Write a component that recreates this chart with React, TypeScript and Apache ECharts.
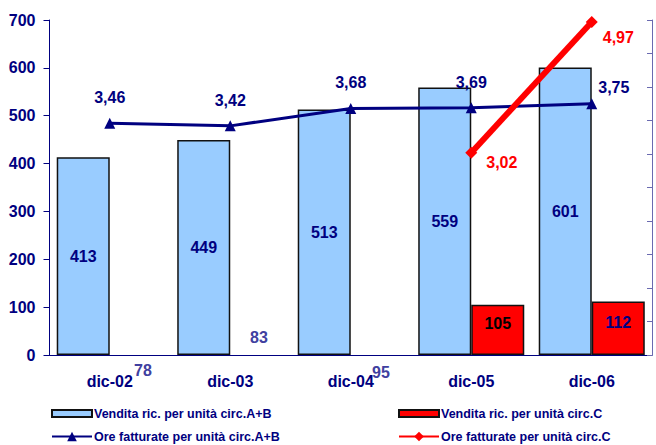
import React, { useEffect, useRef } from "react";
import * as echarts from "echarts";

const categories = ["dic-02", "dic-03", "dic-04", "dic-05", "dic-06"];
const venditaAB = [413, 449, 513, 559, 601];
const venditaC = [null, null, null, 105, 112];
const oreAB = [3.46, 3.42, 3.68, 3.69, 3.75];
const oreC = [null, null, null, 3.02, 4.97];
const strayLabels = ["78", "83", "95"];

const NAVY = "#000080";
const FONT = "'Liberation Sans', Arial, sans-serif";
const fmt = (v: number) => String(v).replace(".", ",");

export default function App() {
  const ref = useRef<HTMLDivElement>(null);
  useEffect(() => {
    const chart = echarts.init(ref.current!, null, { renderer: "svg" });
    const legendText = { color: NAVY, fontWeight: "bold" as const, fontSize: 12.5, fontFamily: FONT, padding: [0, 0, 0, -3] };
    const lg = (left: number, top: number, name: string, h: number, icon?: string) => ({
      left,
      top,
      padding: 0,
      itemWidth: 40,
      itemHeight: h,
      itemGap: 0,
      ...(icon ? { icon } : {}),
      data: [name],
      textStyle: legendText,
    });
    chart.setOption({
      animation: false,
      backgroundColor: "#fff",
      grid: { left: 49.5, right: 4, top: 20, bottom: 90 },
      xAxis: {
        type: "category",
        data: categories,
        axisLine: { lineStyle: { color: NAVY, width: 1 } },
        axisTick: { lineStyle: { color: NAVY }, length: 5 },
        axisLabel: { color: NAVY, fontWeight: "bold", fontSize: 16, fontFamily: FONT, margin: 18 },
      },
      yAxis: [
        {
          type: "value",
          min: 0,
          max: 700,
          interval: 100,
          splitLine: { show: false },
          axisLine: { show: true, lineStyle: { color: NAVY } },
          axisTick: { show: true, length: 6, lineStyle: { color: NAVY } },
          axisLabel: { color: NAVY, fontWeight: "bold", fontSize: 16, fontFamily: FONT, margin: 14 },
        },
        {
          type: "value",
          min: 0,
          max: 5,
          interval: 0.5,
          position: "right",
          splitLine: { show: false },
          axisLine: { show: true, lineStyle: { color: "#6a6ab0" } },
          axisTick: { show: true, inside: true, length: 5, lineStyle: { color: "#6a6ab0" } },
          axisLabel: { show: false },
        },
      ],
      legend: [
        lg(51, 407, "Vendita ric. per unità circ.A+B", 7, "rect"),
        lg(398, 407, "Vendita ric. per unità circ.C", 7, "rect"),
        lg(51, 430, "Ore fatturate per unità circ.A+B", 12),
        lg(398, 430, "Ore fatturate per unità circ.C", 12),
      ],
      series: [
        {
          name: "Vendita ric. per unità circ.A+B",
          type: "bar",
          data: venditaAB,
          barGap: "0%",
          barCategoryGap: "12%",
          itemStyle: { color: "#99CCFF", borderColor: "#111", borderWidth: 1.5 },
          label: { show: true, position: "inside", color: NAVY, fontWeight: "bold", fontSize: 16, fontFamily: FONT },
        },
        {
          name: "Vendita ric. per unità circ.C",
          type: "bar",
          data: venditaC.map((v, i) =>
            v === null ? null : { value: v, label: { color: i === 3 ? "#000" : NAVY } }
          ),
          itemStyle: { color: "#FF0000", borderColor: "#111", borderWidth: 1.5 },
          label: { show: true, position: "inside", offset: [0, -6], fontWeight: "bold", fontSize: 16, fontFamily: FONT },
        },
        {
          name: "Ore fatturate per unità circ.A+B",
          type: "line",
          yAxisIndex: 1,
          z: 5,
          data: oreAB.map((v, i) => ({
            value: v,
            label: i === 4 ? { position: "right", offset: [-4, -16] } : { position: "top", offset: [0, -7] },
          })),
          symbol: "triangle",
          symbolSize: 11,
          lineStyle: { color: NAVY, width: 3 },
          itemStyle: { color: NAVY },
          label: { show: true, color: NAVY, fontWeight: "bold", fontSize: 16, fontFamily: FONT, formatter: (p: any) => fmt(p.value) },
        },
        {
          name: "Ore fatturate per unità circ.C",
          type: "line",
          yAxisIndex: 1,
          z: 6,
          data: oreC.map((v, i) =>
            v === null
              ? null
              : { value: v, label: i === 3 ? { position: "right", offset: [4, 10] } : { position: "right", offset: [0, 15] } }
          ),
          symbol: "diamond",
          symbolSize: 12,
          lineStyle: { color: "#FF0000", width: 6 },
          itemStyle: { color: "#FF0000" },
          label: { show: true, color: "#FF0000", fontWeight: "bold", fontSize: 16, fontFamily: FONT, formatter: (p: any) => fmt(p.value) },
        },
      ],
      graphic: [
        { type: "text", x: 143, y: 370, style: { text: strayLabels[0], fill: "#4040a0", font: `bold 16px ${FONT}`, textAlign: "center", textVerticalAlign: "middle" } },
        { type: "text", x: 259, y: 337, style: { text: strayLabels[1], fill: "#4040a0", font: `bold 16px ${FONT}`, textAlign: "center", textVerticalAlign: "middle" } },
        { type: "text", x: 381, y: 372, style: { text: strayLabels[2], fill: "#4040a0", font: `bold 16px ${FONT}`, textAlign: "center", textVerticalAlign: "middle" } },
      ],
    });
    return () => chart.dispose();
  }, []);
  return <div ref={ref} style={{ width: 656, height: 445, position: "absolute", left: 0, top: 0 }} />;
}
